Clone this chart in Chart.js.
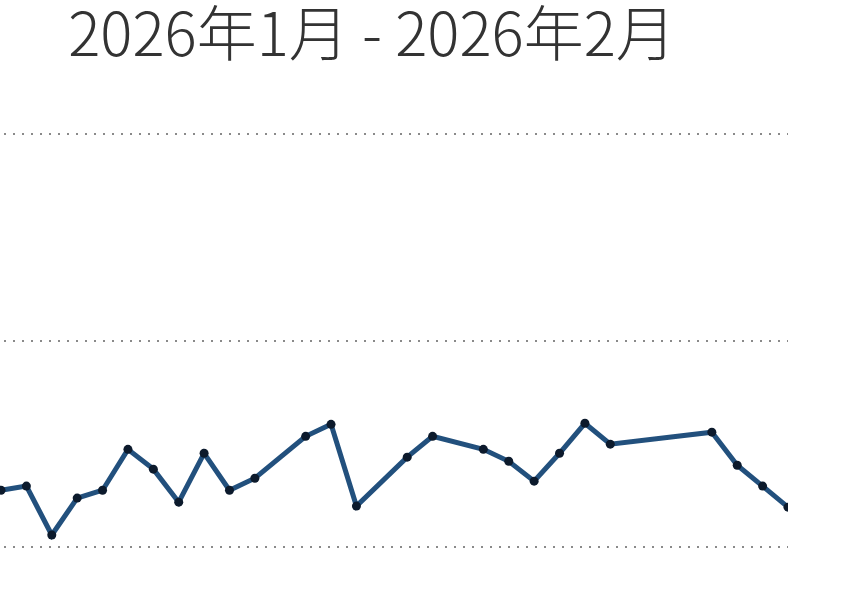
<!DOCTYPE html>
<html>
<head>
<meta charset="utf-8">
<script src="https://cdn.jsdelivr.net/npm/chart.js@4.4.1/dist/chart.umd.min.js"></script>
<style>
  html, body { margin: 0; padding: 0; background: #ffffff; }
  #wrap { width: 855px; height: 610px; position: relative; }
</style>
</head>
<body>
<div id="wrap"><canvas id="c"></canvas></div>
<script>
// Data
const titleText = '2026年1月 - 2026年2月';
const dates = [
  '2026-01-12','2026-01-13','2026-01-14','2026-01-15','2026-01-16','2026-01-17',
  '2026-01-18','2026-01-19','2026-01-20','2026-01-21','2026-01-22',
  '2026-01-24','2026-01-25','2026-01-26',
  '2026-01-28','2026-01-29',
  '2026-01-31','2026-02-01','2026-02-02','2026-02-03','2026-02-04','2026-02-05',
  '2026-02-09','2026-02-10','2026-02-11','2026-02-12'
];
const values = [
  27.5, 29.5, 5.8, 23.7, 27.5, 47.3,
  37.7, 21.7, 45.4, 27.5, 33.3,
  53.6, 59.4, 19.8,
  43.5, 53.6,
  47.3, 41.5, 31.9, 45.4, 59.9, 49.8,
  55.6, 39.6, 29.5, 19.3
];
const yTicks = [0, 100, 200];

const DAY = 86400000;
const t0 = Date.parse(dates[0]);
const dayIndex = dates.map(d => Math.round((Date.parse(d) - t0) / DAY));
const points = dayIndex.map((x, i) => ({ x: x, y: values[i], date: dates[i] }));

new Chart(document.getElementById('c'), {
  type: 'line',
  data: {
    datasets: [{
      label: '2026',
      data: points,
      borderColor: '#22507d',
      borderWidth: 5,
      pointRadius: 4.5,
      pointHoverRadius: 5.5,
      pointBackgroundColor: '#0c1a2c',
      pointBorderColor: '#0c1a2c',
      pointBorderWidth: 0,
      tension: 0,
      clip: 0
    }]
  },
  options: {
    responsive: true,
    maintainAspectRatio: false,
    animation: false,
    layout: { autoPadding: false, padding: { left: -44, right: 67, top: 0, bottom: 63 } },
    plugins: {
      legend: { display: false },
      tooltip: {
        callbacks: {
          title: items => items[0].raw.date
        }
      },
      title: {
        display: true,
        text: titleText,
        color: '#333333',
        font: { family: '"Noto Sans CJK SC", "Noto Sans", sans-serif', size: 60, weight: '300', lineHeight: 1.1 },
        padding: { top: 0, bottom: 68 }
      }
    },
    scales: {
      x: {
        type: 'linear',
        display: false,
        min: -0.04,
        max: dayIndex[dayIndex.length - 1]
      },
      y: {
        type: 'linear',
        min: yTicks[0],
        max: yTicks[yTicks.length - 1],
        afterBuildTicks: axis => { axis.ticks = yTicks.map(v => ({ value: v })); },
        ticks: { display: false },
        grid: { color: '#8a8a8a', lineWidth: 2, drawTicks: false },
        border: { display: false, dash: [2, 7], dashOffset: 5 }
      }
    }
  }
});
</script>
</body>
</html>
